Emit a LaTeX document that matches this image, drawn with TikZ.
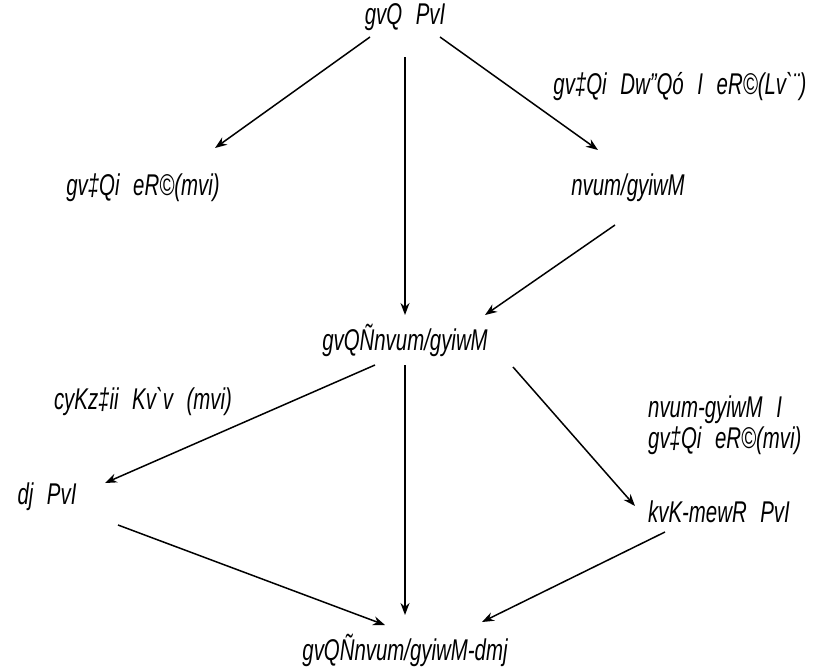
\documentclass[tikz,border=0pt]{standalone}
\usepackage{fontspec}
\setmainfont{Liberation Sans}[FakeStretch=0.68, WordSpace=2.4, Ligatures=TeXOff]
\usetikzlibrary{arrows.meta}
\begin{document}
\begin{tikzpicture}[x=1pt,y=-1pt,
  lab/.style={font=\fontsize{30}{31}\selectfont\itshape, inner sep=0pt},
  arr/.style={-{Stealth[length=12pt,width=9pt]}, line width=1.5pt}]
\useasboundingbox (0,0) rectangle (833,670);
\node[lab] (A) at (405,17) {gvQ PvI};
\node[lab] (B) at (143,188) {gv‡Qi eR©(mvi)};
\node[lab] (C) at (628,188) {nvum/gyiwM};
\node[lab] (D) at (405,340) {gvQÑnvum/gyiwM};
\node[lab] (E) at (47,497) {dj PvI};
\node[lab] (F) at (719,512) {kvK-mewR PvI};
\node[lab] (G) at (405,650) {gvQÑnvum/gyiwM-dmj};
\node[lab] (L1) at (680,87) {gv‡Qi Dw”Qó I eR©(Lv`¨)};
\node[lab] (L2) at (143,402) {cyKz‡ii Kv`v (mvi)};
\node[lab, align=left, anchor=west] (L3) at (648,425) {nvum-gyiwM I\\gv‡Qi eR©(mvi)};
\draw[arr] ([shift={(-35,20)}]A.center) -- ([shift={(72,-40)}]B.center);
\draw[arr] ([shift={(0,40)}]A.center) -- ([shift={(0,-25)}]D.center);
\draw[arr] ([shift={(35,20)}]A.center) -- ([shift={(-30,-38)}]C.center);
\draw[arr] ([shift={(-13,37)}]C.center) -- ([shift={(80,-25)}]D.center);
\draw[arr] ([shift={(-30,25)}]D.center) -- ([shift={(58,-14)}]E.center);
\draw[arr] ([shift={(0,25)}]D.center) -- ([shift={(0,-35)}]G.center);
\draw[arr] ([shift={(108,27)}]D.center) -- ([shift={(-84,-6)}]F.center);
\draw[arr] ([shift={(71,28)}]E.center) -- ([shift={(-20,-25)}]G.center);
\draw[arr] ([shift={(-54,20)}]F.center) -- ([shift={(77,-28)}]G.center);
\end{tikzpicture}
\end{document}
